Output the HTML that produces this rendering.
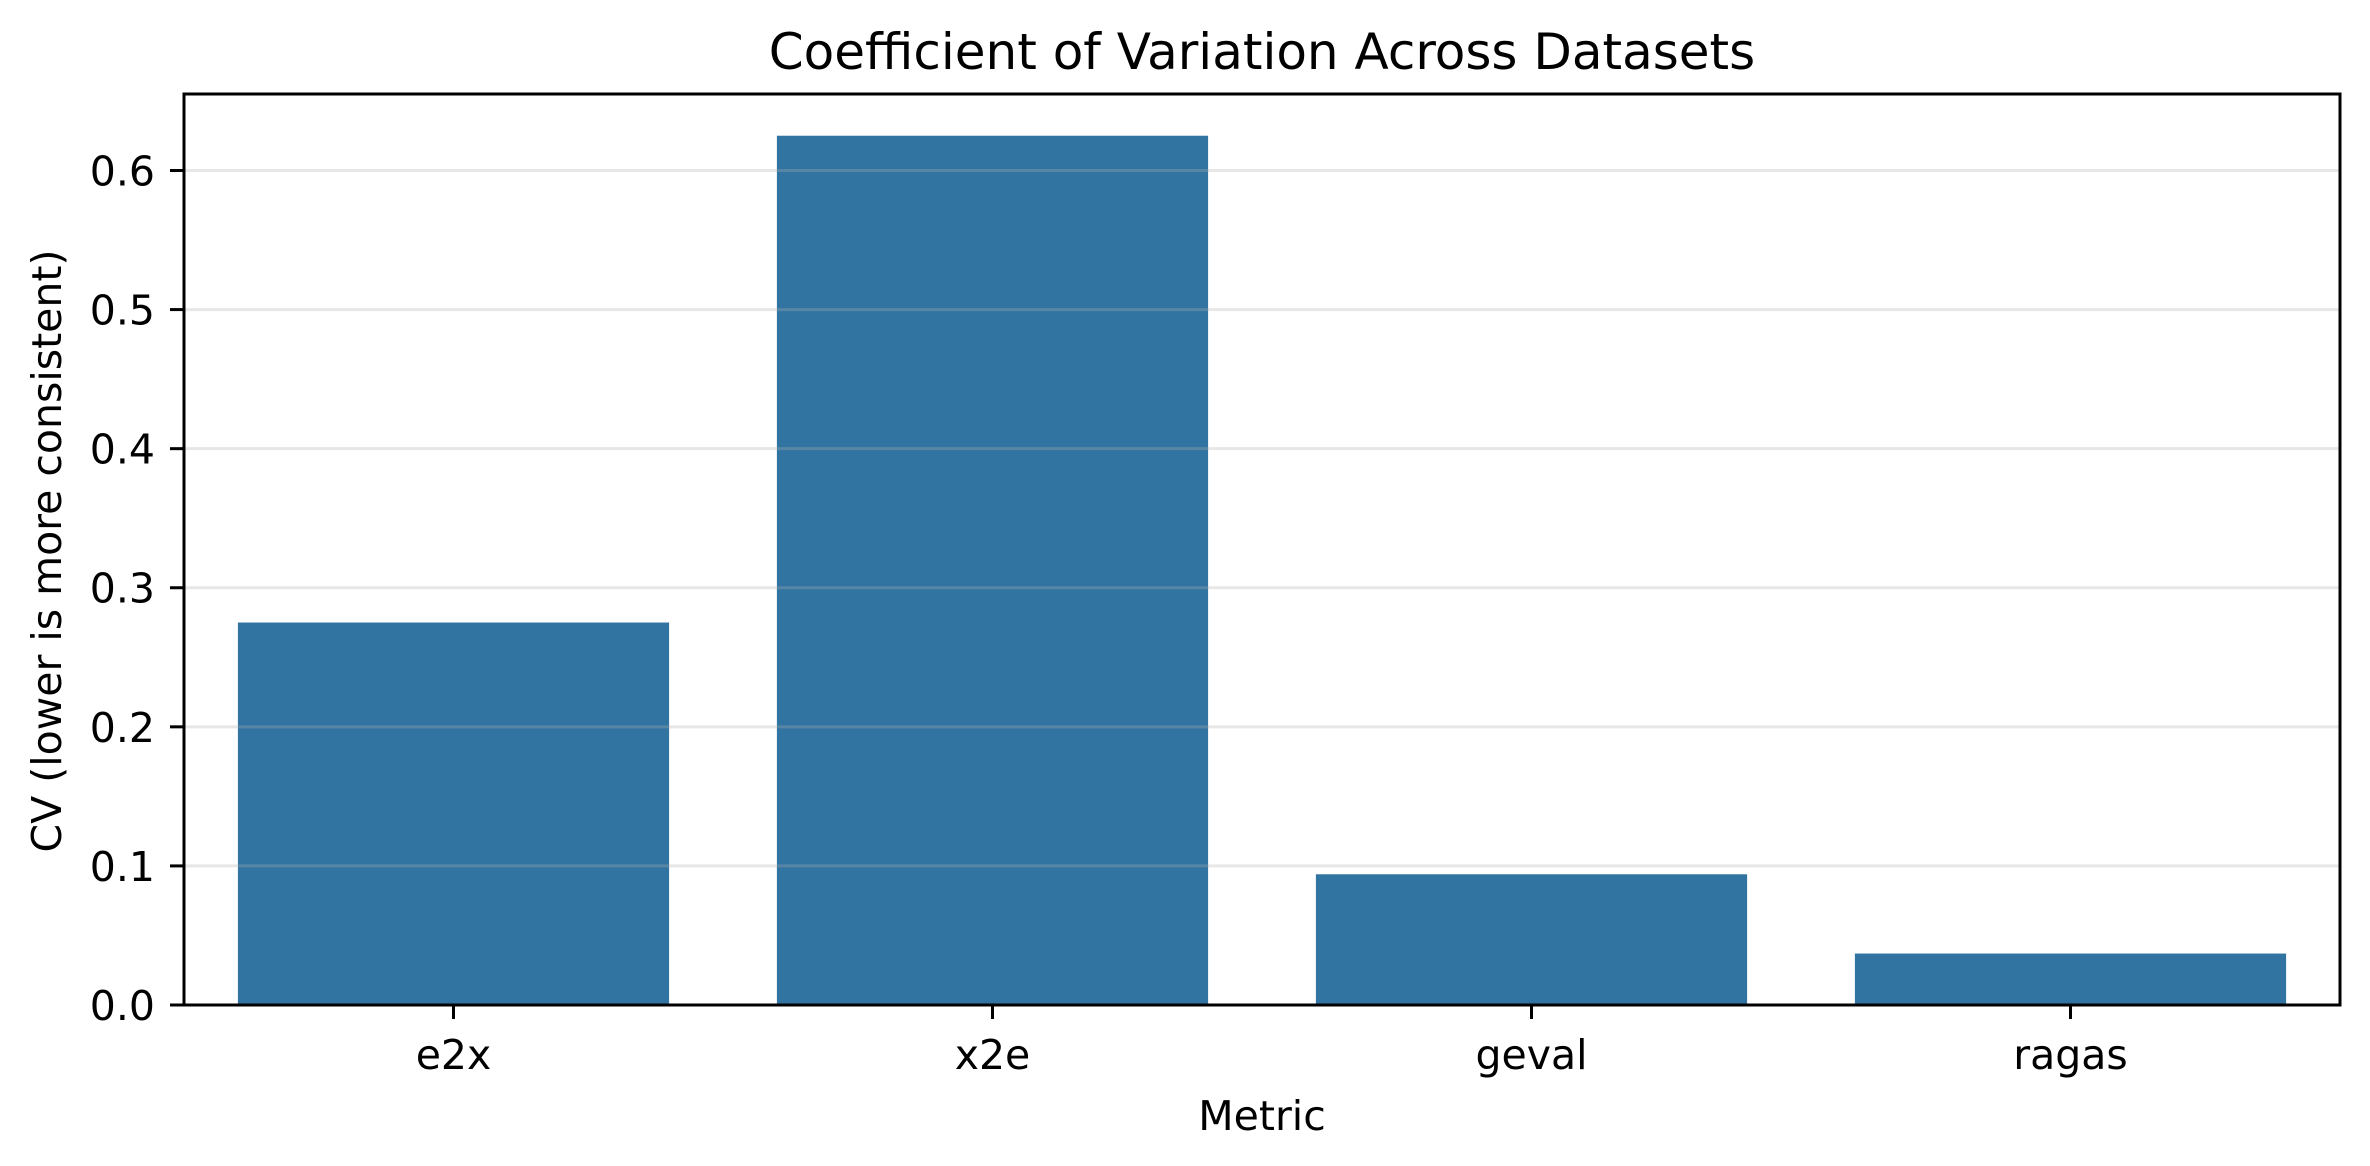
<!DOCTYPE html>
<html><head><meta charset="utf-8"><style>
html,body{margin:0;padding:0;background:#fff;}
svg{display:block;font-family:"DejaVu Sans","Liberation Sans",sans-serif;}
</style></head><body>
<svg id="chart" width="2370" height="1166" viewBox="0 0 2370 1166">
<rect width="2370" height="1166" fill="#fff"/>
<text x="1262" y="69" font-size="50" text-anchor="middle" fill="#000">Coefficient of Variation Across Datasets</text>
<g id="bars"></g>
<g id="grid"></g>
<g id="yticks"></g>
<g id="xticks"></g>
<rect x="184" y="94" width="2156" height="911" fill="none" stroke="#000" stroke-width="3"/>
<text x="1262" y="1130" font-size="41" text-anchor="middle">Metric</text>
<text transform="translate(61,551) rotate(-90)" font-size="41" text-anchor="middle">CV (lower is more consistent)</text>
</svg>
<script>
const categories = ["e2x","x2e","geval","ragas"];
const cvValues = [0.275,0.625,0.094,0.037];
const yTickValues = [0,0.1,0.2,0.3,0.4,0.5,0.6];
const yTickLabels = ["0.0","0.1","0.2","0.3","0.4","0.5","0.6"];
const NS="http://www.w3.org/2000/svg";
const L=184,R=2340,T=94,B=1005,YMAX=0.655;
const yS=v=>B-(v/YMAX)*(B-T);
const band=(R-L)/categories.length;
const xC=i=>L+band*(i+0.5);
function mk(tag,attrs,parent){const e=document.createElementNS(NS,tag);for(const k in attrs)e.setAttribute(k,attrs[k]);parent.appendChild(e);return e;}
const bars=document.getElementById('bars'),grid=document.getElementById('grid'),yt=document.getElementById('yticks'),xt=document.getElementById('xticks');
categories.forEach((c,i)=>{
  const w=band*0.8;
  const r=mk('rect',{x:xC(i)-w/2,y:yS(cvValues[i]),width:w,height:B-yS(cvValues[i]),fill:'#3274a1'},bars);
  
  
  const t=mk('line',{x1:xC(i),x2:xC(i),y1:B,y2:B+14,stroke:'#000','stroke-width':3},xt);
  
  
  const lb=mk('text',{x:xC(i),y:1069,'font-size':41,'text-anchor':'middle'},xt);
  lb.textContent=c;
  
  
});
yTickValues.forEach((v,i)=>{
  const y=yS(v);
  if(v>0){const g=mk('line',{x1:L,x2:R,y1:y,y2:y,stroke:'#b0b0b0','stroke-opacity':0.3,'stroke-width':3},grid);
  
  }
  const t=mk('line',{x1:L-14,x2:L,y1:y,y2:y,stroke:'#000','stroke-width':3},yt);
  
  
  const lb=mk('text',{x:L-29,y:y+15,'font-size':41,'text-anchor':'end'},yt);
  lb.textContent=yTickLabels[i];
  
  
});
</script>
</body></html>
